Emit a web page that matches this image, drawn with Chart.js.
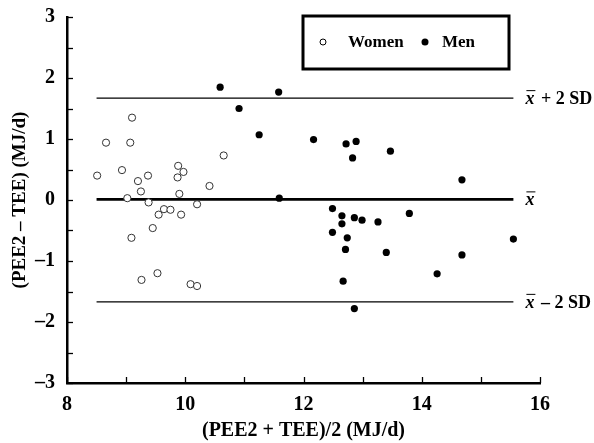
<!DOCTYPE html>
<html><head><meta charset="utf-8">
<script src="https://cdn.jsdelivr.net/npm/chart.js@4/dist/chart.umd.min.js"></script>
<style>html,body{margin:0;padding:0;background:#fff}#wrap{width:594px;height:443px;position:relative}</style>
</head><body><div id="wrap"><canvas id="c" width="594" height="443"></canvas></div>
<script>
// ---- data ----
const womenX = [8.51, 8.66, 8.93, 9.07, 9.10, 9.20, 9.37, 9.25, 9.02, 9.38, 9.88, 9.97, 9.87, 9.90, 10.41, 10.65, 10.20, 9.64, 9.75, 9.55, 9.93, 9.45, 9.09, 9.53, 9.26, 10.09, 10.20];
const womenY = [0.40, 0.94, 0.49, 0.94, 1.35, 0.31, 0.40, 0.14, 0.03, -0.04, 0.56, 0.46, 0.37, 0.10, 0.23, 0.73, -0.07, -0.15, -0.16, -0.24, -0.24, -0.46, -0.62, -1.20, -1.31, -1.38, -1.41];
const menX = [10.59, 10.91, 11.25, 11.58, 11.59, 12.17, 12.72, 12.89, 12.83, 13.47, 14.68, 12.49, 12.65, 12.86, 12.99, 13.26, 13.79, 12.65, 12.49, 12.74, 12.71, 13.40, 14.68, 15.55, 14.26, 12.67, 12.86];
const menY = [1.85, 1.50, 1.07, 1.77, 0.03, 0.99, 0.92, 0.96, 0.69, 0.80, 0.33, -0.14, -0.26, -0.29, -0.33, -0.36, -0.22, -0.39, -0.53, -0.62, -0.81, -0.86, -0.90, -0.64, -1.21, -1.33, -1.78];
const meanDiff = 0.01;
const upperLimit = 1.67;
const lowerLimit = -1.67;
const limitLineX = [8.5, 15.55];
const limitLabels = ["+ 2 SD", "", "\u2013 2 SD"];
const xTickValues = [8, 9, 10, 11, 12, 13, 14, 15, 16];
const xTickLabels = ["8", "", "10", "", "12", "", "14", "", "16"];
const yTickValues = [-3, -2.5, -2, -1.5, -1, -0.5, 0, 0.5, 1, 1.5, 2, 2.5, 3];
const yTickLabels = {"-3": "\u20133", "-2": "\u20132", "-1": "\u20131", "0": "0", "1": "1", "2": "2", "3": "3"};
const legendLabels = ["Women", "Men"];
const xTitle = "(PEE2 + TEE)/2 (MJ/d)";
const yTitle = "(PEE2 \u2013 TEE) (MJ/d)";

const FONT = '"Liberation Serif", "Times New Roman", serif';
const toPts = (xs, ys) => xs.map((x, i) => ({x: x, y: ys[i]}));
const hline = (v) => limitLineX.map(x => ({x: x, y: v}));

const extras = {
  id: 'extras',
  afterDraw(chart) {
    const ctx = chart.ctx, ca = chart.chartArea;
    const xs = chart.scales.x, ys = chart.scales.y;
    ctx.save();
    // inward tick marks
    ctx.strokeStyle = '#000'; ctx.lineWidth = 1.3;
    yTickValues.forEach(v => {
      const p = Math.round(ys.getPixelForValue(v)) + 0.5;
      ctx.beginPath(); ctx.moveTo(ca.left, p); ctx.lineTo(ca.left + 6, p); ctx.stroke();
    });
    xTickValues.forEach(v => {
      const p = Math.round(xs.getPixelForValue(v)) + 0.5;
      ctx.beginPath(); ctx.moveTo(p, ca.bottom); ctx.lineTo(p, ca.bottom - 6); ctx.stroke();
    });
    // right-side labels for limit lines
    const lx = xs.getPixelForValue(limitLineX[1]) + 12;
    [upperLimit, meanDiff, lowerLimit].forEach((v, i) => {
      const py = ys.getPixelForValue(v) + 1;
      ctx.fillStyle = '#000';
      ctx.textBaseline = 'middle'; ctx.textAlign = 'left';
      ctx.font = 'italic bold 18px ' + FONT;
      ctx.fillText('x', lx, py);
      const w = ctx.measureText('x').width;
      ctx.lineWidth = 1;
      ctx.beginPath(); ctx.moveTo(lx + 1, py - 8.5); ctx.lineTo(lx + w + 1, py - 8.5); ctx.stroke();
      if (limitLabels[i]) {
        ctx.font = 'bold 18px ' + FONT;
        ctx.fillText(' ' + limitLabels[i], lx + w + 2, py);
      }
    });
    // legend box
    ctx.lineWidth = 3;
    ctx.strokeStyle = '#000';
    ctx.strokeRect(303, 16, 206, 53);
    ctx.lineWidth = 1;
    ctx.beginPath(); ctx.arc(323, 42, 3, 0, Math.PI * 2); ctx.fillStyle = '#fff'; ctx.fill(); ctx.stroke();
    ctx.beginPath(); ctx.arc(425, 42, 3.5, 0, Math.PI * 2); ctx.fillStyle = '#000'; ctx.fill();
    ctx.font = 'bold 17px ' + FONT;
    ctx.fillStyle = '#000'; ctx.textBaseline = 'middle'; ctx.textAlign = 'left';
    ctx.fillText(legendLabels[0], 348, 43);
    ctx.fillText(legendLabels[1], 442, 43);
    ctx.restore();
  }
};

new Chart(document.getElementById('c'), {
  type: 'scatter',
  data: {
    datasets: [
      {label: legendLabels[0], data: toPts(womenX, womenY), pointStyle: 'circle', pointRadius: 3.6,
       pointBackgroundColor: '#fff', pointBorderColor: '#333', pointBorderWidth: 1, order: 0},
      {label: legendLabels[1], data: toPts(menX, menY), pointStyle: 'circle', pointRadius: 3.6,
       pointBackgroundColor: '#000', pointBorderColor: '#000', pointBorderWidth: 0, order: 0},
      {type: 'line', data: hline(upperLimit), borderColor: '#000', borderWidth: 1.2, pointRadius: 0, order: 1},
      {type: 'line', data: hline(meanDiff), borderColor: '#000', borderWidth: 2.6, pointRadius: 0, order: 1},
      {type: 'line', data: hline(lowerLimit), borderColor: '#000', borderWidth: 1.2, pointRadius: 0, order: 1}
    ]
  },
  options: {
    responsive: false,
    animation: false,
    events: [],
    layout: {padding: {left: 0, right: 54, top: 17, bottom: 0}},
    plugins: {legend: {display: false}, tooltip: {enabled: false}},
    scales: {
      x: {
        type: 'linear', min: 8, max: 16,
        afterFit(s) { s.height = 60; s.paddingLeft = 0; s.paddingRight = 0; },
        afterBuildTicks(s) { s.ticks = xTickValues.map(v => ({value: v})); },
        ticks: {
          autoSkip: false, maxRotation: 0, color: '#000', padding: 10,
          font: {family: FONT, size: 20, weight: 'bold'},
          callback: (v) => xTickLabels[xTickValues.indexOf(v)] || ''
        },
        grid: {display: false, drawTicks: false},
        border: {display: true, color: '#000', width: 2.5},
        title: {display: true, text: xTitle, color: '#000', padding: {top: 0, bottom: 0},
                font: {family: FONT, size: 20, weight: 'bold'}}
      },
      y: {
        type: 'linear', min: -3, max: 3,
        afterFit(s) { s.width = 67; s.paddingTop = 0; s.paddingBottom = 0; },
        afterBuildTicks(s) { s.ticks = [-3, -2, -1, 0, 1, 2, 3].map(v => ({value: v})); },
        ticks: {
          autoSkip: false, color: '#000', padding: 12,
          font: {family: FONT, size: 20, weight: 'bold'},
          callback: (v) => yTickLabels[String(v)] || ''
        },
        grid: {display: false, drawTicks: false},
        border: {display: true, color: '#000', width: 2.5},
        title: {display: true, text: yTitle, color: '#000', padding: {top: 9, bottom: 0},
                font: {family: FONT, size: 19, weight: 'bold'}}
      }
    }
  },
  plugins: [extras]
});
</script>
</body></html>
